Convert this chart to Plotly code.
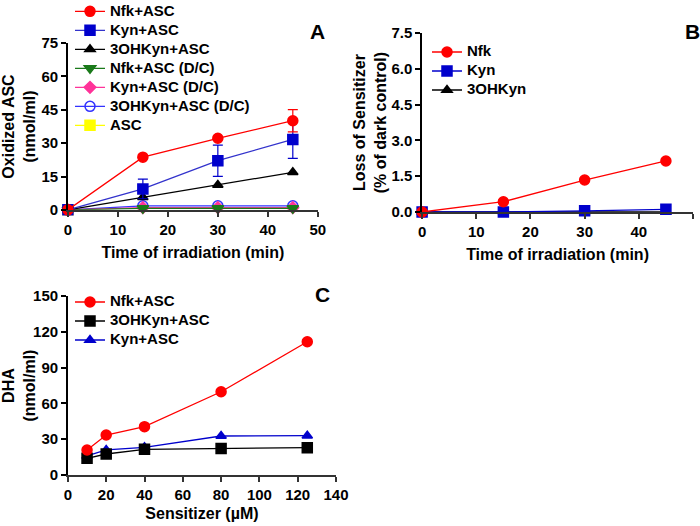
import plotly.graph_objects as go

# Panel A data
time_a = [0, 15, 30, 45]
nfk_asc = [0, 23.7, 32.2, 40.1]
nfk_asc_err = [0, 0, 0, 5.0]
kyn_asc = [0, 9.4, 22.1, 31.7]
kyn_asc_err = [0, 4.4, 7.0, 8.5]
ohkyn_asc = [0, 5.7, 11.2, 16.9]
nfk_dc = [0, 0.7, 0.7, 0.7]
kyn_dc = [0, 1.0, 1.0, 1.0]
ohkyn_dc = [0, 1.8, 1.8, 1.8]
asc = [0, -0.6, -0.6, -0.6]

# Panel B data
time_b = [0, 15, 30, 45]
nfk_b = [0, 0.43, 1.34, 2.14]
kyn_b = [0, 0.0, 0.05, 0.11]
ohkyn_b = [0, 0.0, 0.0, 0.0]

# Panel C data
sens_c = [10, 20, 40, 80, 125]
nfk_c = [20.9, 33.5, 40.5, 69.8, 111.7]
ohkyn_c = [14.0, 17.6, 21.5, 22.3, 22.9]
kyn_c = [16.0, 21.0, 23.2, 32.7, 33.0]

FONT = "Liberation Sans"
RED = "#ff0000"
BLUE = "#0000cc"
BLACK = "#000000"
GREEN = "#1a7a1a"
PINK = "#ff3399"
LBLUE = "#3333ff"
YELLOW = "#ffff00"

fig = go.Figure()


def lname(s):
    return f"<span style='font-size:15px;font-weight:bold'>{s}</span>"


def add(x, y, name, color, symbol, xa, ya, legend, err=None, size=10, line_color=None):
    kw = {}
    if err is not None:
        kw["error_y"] = dict(type="data", array=err, color=color, thickness=1.2, width=5, visible=True)
    fig.add_trace(go.Scatter(
        x=x, y=y, name=lname(name), mode="lines+markers",
        line=dict(color=line_color or color, width=1.3),
        marker=dict(symbol=symbol, size=size, color=color,
                    line=dict(color=color, width=1.5)),
        xaxis=xa, yaxis=ya, legend=legend, cliponaxis=False, **kw))


# Panel A
add(time_a, asc, "ASC", YELLOW, "square", "x", "y", "legend", size=10)
add(time_a, ohkyn_dc, "3OHKyn+ASC (D/C)", LBLUE, "circle-open", "x", "y", "legend", size=10)
add(time_a, kyn_dc, "Kyn+ASC (D/C)", PINK, "diamond", "x", "y", "legend", size=9)
add(time_a, nfk_dc, "Nfk+ASC (D/C)", GREEN, "triangle-down", "x", "y", "legend", size=10)
add(time_a, ohkyn_asc, "3OHKyn+ASC", BLACK, "triangle-up", "x", "y", "legend", size=9)
add(time_a, kyn_asc, "Kyn+ASC", BLUE, "square", "x", "y", "legend", err=kyn_asc_err, size=10, line_color="#3333cc")
add(time_a, nfk_asc, "Nfk+ASC", RED, "circle", "x", "y", "legend", err=nfk_asc_err, size=10)

# Panel B
add(time_b, ohkyn_b, "3OHKyn", BLACK, "triangle-up", "x2", "y2", "legend2", size=9)
add(time_b, kyn_b, "Kyn", BLUE, "square", "x2", "y2", "legend2", size=10)
add(time_b, nfk_b, "Nfk", RED, "circle", "x2", "y2", "legend2", size=10)

# Panel C
add(sens_c, kyn_c, "Kyn+ASC", BLUE, "triangle-up", "x3", "y3", "legend3", size=9)
add(sens_c, ohkyn_c, "3OHKyn+ASC", BLACK, "square", "x3", "y3", "legend3", size=10)
add(sens_c, nfk_c, "Nfk+ASC", RED, "circle", "x3", "y3", "legend3", size=10)

tickfont = dict(family=FONT, size=15, color="black", weight="bold")
titlefont = dict(family=FONT, size=16, color="black", weight="bold")


def xax(domain, anchor, rng, dtick, title, standoff):
    return dict(domain=domain, anchor=anchor, range=rng, dtick=dtick, showgrid=False,
                zeroline=False, showline=True, linecolor="#333", linewidth=1.5,
                ticks="outside", ticklen=5, tickwidth=1.5, tickcolor="#333",
                tickfont=tickfont, automargin=False,
                title=dict(text=title, font=titlefont, standoff=standoff))


def yax(domain, anchor, rng, dtick, title, standoff, fmt=None):
    d = dict(domain=domain, anchor=anchor, range=rng, dtick=dtick, showgrid=False,
             zeroline=False, showline=True, linecolor="black", linewidth=1.5,
             ticks="outside", ticklen=5, tickwidth=1.5, tickcolor="black",
             tickfont=tickfont, automargin=False,
             title=dict(text=title, font=titlefont, standoff=standoff))
    if fmt:
        d["tickformat"] = fmt
    return d


legfont = dict(family=FONT, size=11, color="black")

fig.update_layout(
    width=700, height=526, margin=dict(l=0, r=0, t=0, b=0, autoexpand=False),
    paper_bgcolor="white", plot_bgcolor="white",
    xaxis=xax([0.097, 0.454], "y", [0, 50], 10, "Time of irradiation (min)", 10),
    yaxis=yax([0.601, 0.918], "x", [0, 75], 15, "Oxidized ASC<br>(nmol/ml)", 6),
    xaxis2=xax([0.603, 0.99], "y2", [0, 50], 10, "Time of irradiation (min)", 10),
    yaxis2=yax([0.597, 0.937], "x2", [0, 7.5], 1.5, "Loss of Sensitizer<br>(% of dark control)", 1, fmt=".1f"),
    xaxis3=xax([0.097, 0.48], "y3", [0, 140], 20, "Sensitizer (\u00b5M)", 6),
    yaxis3=yax([0.097, 0.437], "x3", [0, 150], 30, "DHA<br>(nmol/ml)", 1),
    legend=dict(x=0.1, y=1.006, xanchor="left", yanchor="top", traceorder="reversed",
                font=legfont, bgcolor="rgba(0,0,0,0)", tracegroupgap=0),
    legend2=dict(x=0.61, y=0.9287, xanchor="left", yanchor="top", traceorder="reversed",
                 font=legfont, bgcolor="rgba(0,0,0,0)"),
    legend3=dict(x=0.1, y=0.4534, xanchor="left", yanchor="top", traceorder="reversed",
                 font=legfont, bgcolor="rgba(0,0,0,0)"),
    annotations=[
        dict(text="<b>A</b>", x=317 / 700, y=1 - 31 / 526, xref="paper", yref="paper",
             xanchor="center", yanchor="middle",
             showarrow=False, font=dict(family=FONT, size=21, color="black")),
        dict(text="<b>B</b>", x=692 / 700, y=1 - 32 / 526, xref="paper", yref="paper",
             xanchor="center", yanchor="middle",
             showarrow=False, font=dict(family=FONT, size=21, color="black")),
        dict(text="<b>C</b>", x=322 / 700, y=1 - 294 / 526, xref="paper", yref="paper",
             xanchor="center", yanchor="middle",
             showarrow=False, font=dict(family=FONT, size=21, color="black")),
    ],
)

fig.write_html("out.html", config={"displayModeBar": False},
               post_script="document.body.style.margin='0px';")
